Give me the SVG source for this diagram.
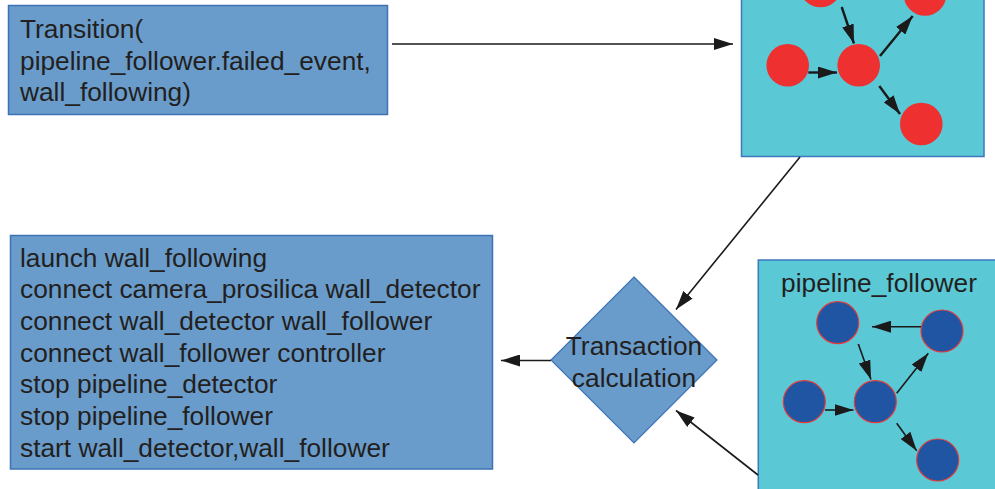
<svg xmlns="http://www.w3.org/2000/svg" width="995" height="489" viewBox="0 0 995 489">
  <defs>
    <style>
      .txt { font-family: "Liberation Sans", Arial, sans-serif; font-size: 26.3px; fill: #231f20; }
      .box { fill: #699ccb; stroke: #3d72b4; stroke-width: 1.5; }
      .panel { fill: #5bc8d6; stroke: #3d78bd; stroke-width: 1.5; }
      .edge { fill: none; stroke: #1a1a1a; stroke-width: 1.6; marker-end: url(#arrow); }
      .edge-thick { fill: none; stroke: #1a1a1a; stroke-width: 2.4; marker-end: url(#arrow); }
      .red-node { fill: #ee3030; }
      .blue-node { fill: #1f55a2; stroke: #e8393a; stroke-width: 1.2; }
    </style>
    <marker id="arrow" markerUnits="userSpaceOnUse" markerWidth="19" markerHeight="12" refX="19" refY="6" orient="auto">
      <path d="M0,0 L19,6 L0,12 z" fill="#1a1a1a"/>
    </marker>
  </defs>

  <!-- transition statement -->
  <g id="transition">
    <rect class="box" x="8.5" y="5.5" width="379" height="109"/>
    <text class="txt" x="20" y="38">Transition(</text>
    <text class="txt" x="20" y="69.5">pipeline_follower.failed_event,</text>
    <text class="txt" x="20" y="101">wall_following)</text>
  </g>

  <!-- target state: wall_following -->
  <g id="wall-following">
    <rect class="panel" x="741.5" y="-2" width="242.5" height="158.5"/>
    <circle class="red-node" cx="820.5" cy="-14" r="21.3"/>
    <circle class="red-node" cx="925" cy="-5.5" r="21.3"/>
    <circle class="red-node" cx="787.7" cy="65.3" r="21.3"/>
    <circle class="red-node" cx="858.7" cy="65.3" r="21.3"/>
    <circle class="red-node" cx="921.3" cy="124" r="21.3"/>
    <g>
      <line class="edge-thick" x1="841.7" y1="7" x2="854" y2="43.5"/>
      <line class="edge-thick" x1="808.3" y1="72.5" x2="837" y2="72.5"/>
      <line class="edge-thick" x1="880" y1="56" x2="912.7" y2="16"/>
      <line class="edge-thick" x1="879.3" y1="86" x2="900" y2="114"/>
    </g>
  </g>

  <!-- current state: pipeline_follower -->
  <g id="pipeline-follower">
    <rect class="panel" x="758.3" y="260" width="245" height="240"/>
    <text class="txt" x="879" y="292" text-anchor="middle">pipeline_follower</text>
    <circle class="blue-node" cx="837.7" cy="322.7" r="21"/>
    <circle class="blue-node" cx="942" cy="331" r="21"/>
    <circle class="blue-node" cx="804.3" cy="401.7" r="21"/>
    <circle class="blue-node" cx="875.3" cy="401.7" r="21"/>
    <circle class="blue-node" cx="937.7" cy="460" r="21"/>
    <g>
      <line class="edge" x1="921" y1="326.7" x2="872" y2="326.7"/>
      <line class="edge" x1="858.3" y1="344" x2="871" y2="379.5"/>
      <line class="edge" x1="825" y1="410" x2="853.5" y2="410"/>
      <line class="edge" x1="896.7" y1="393.3" x2="928.3" y2="353.3"/>
      <line class="edge" x1="896.7" y1="423.3" x2="916.7" y2="450.7"/>
    </g>
  </g>

  <!-- decision -->
  <g id="transaction-calculation">
    <polygon points="634,277 717,360 634,443 551,360" fill="#699ccb" stroke="#3d72b4" stroke-width="1.2"/>
    <text class="txt" x="634" y="355" text-anchor="middle">Transaction</text>
    <text class="txt" x="634" y="386.5" text-anchor="middle">calculation</text>
  </g>

  <!-- resulting commands -->
  <g id="commands">
    <rect class="box" x="10.5" y="235.5" width="482" height="233.5"/>
    <text class="txt" x="20" y="266.7">launch wall_following</text>
    <text class="txt" x="20" y="298.3">connect camera_prosilica wall_detector</text>
    <text class="txt" x="20" y="330">connect wall_detector wall_follower</text>
    <text class="txt" x="20" y="361.7">connect wall_follower controller</text>
    <text class="txt" x="20" y="393.3">stop pipeline_detector</text>
    <text class="txt" x="20" y="425">stop pipeline_follower</text>
    <text class="txt" x="20" y="456.7">start wall_detector,wall_follower</text>
  </g>

  <g id="connectors">
    <line class="edge" x1="392" y1="44" x2="733" y2="44" stroke-width="2"/>
    <line class="edge" x1="800" y1="157" x2="676" y2="309.5"/>
    <line class="edge" x1="758" y1="475" x2="676" y2="410.5"/>
    <line class="edge" x1="551" y1="360.5" x2="501" y2="360.5" stroke-width="2"/>
  </g>
</svg>
